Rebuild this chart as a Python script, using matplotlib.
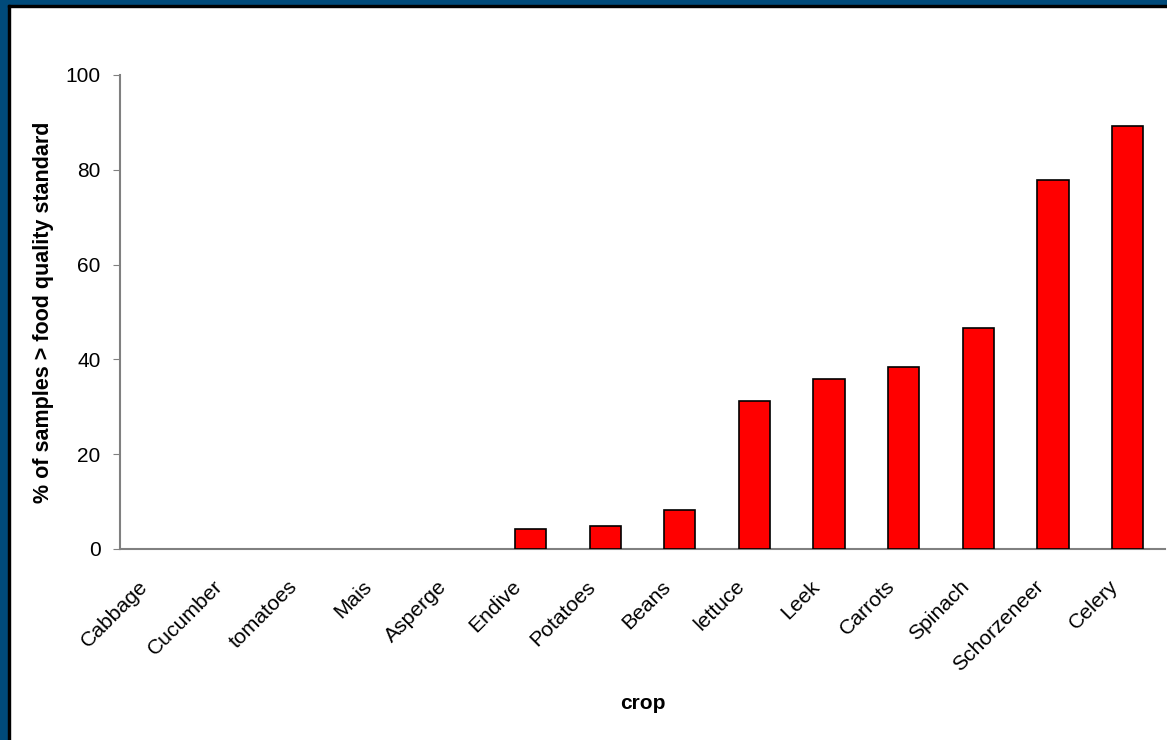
import matplotlib.pyplot as plt
from matplotlib.patches import Rectangle
from matplotlib.transforms import ScaledTranslation

crops = ["Cabbage", "Cucumber", "tomatoes", "Mais", "Asperge", "Endive", "Potatoes",
         "Beans", "lettuce", "Leek", "Carrots", "Spinach", "Schorzeneer", "Celery"]
pct_over = [0, 0, 0, 0, 0, 4.2, 4.9, 8.2, 31.2, 35.9, 38.4, 46.6, 77.8, 89.2]

plt.rcParams["font.family"] = ["Liberation Sans", "DejaVu Sans"]

W, H = 1167, 740
fig = plt.figure(figsize=(W / 100, H / 100), dpi=100)

# blue frame on left and top, with a thin black inner line
blue = "#004a7a"
fig.patches.append(Rectangle((0, 0), 8 / W, 1, transform=fig.transFigure, color=blue, zorder=0))
fig.patches.append(Rectangle((0, 1 - 5 / H), 1, 5 / H, transform=fig.transFigure, color=blue, zorder=0))
fig.patches.append(Rectangle((8 / W, 0), 1.5 / W, 1 - 5 / H, transform=fig.transFigure, color="black", zorder=0))
fig.patches.append(Rectangle((8 / W, 1 - 6.5 / H), 1, 1.5 / H, transform=fig.transFigure, color="black", zorder=0))

ax = fig.add_axes([120 / W, (H - 549) / H, (1165 - 120) / W, (549 - 75) / H])
x = range(len(crops))
lw = [1.2 if v > 0 else 0 for v in pct_over]
ax.bar(x, pct_over, width=0.42, color="#ff0000", edgecolor="black", linewidth=lw, zorder=3)

ax.set_xlim(-0.5, len(crops) - 0.5)
ax.set_ylim(0, 100)
ax.set_yticks([0, 20, 40, 60, 80, 100])
ax.tick_params(axis="y", direction="out", length=5, color="#808080", labelsize=15, pad=9)
ax.tick_params(axis="x", length=0, labelsize=15.2, pad=20)
ax.set_xticks(list(x))
ax.set_xticklabels(crops, rotation=45, ha="right", rotation_mode="anchor")
shift = ScaledTranslation(-19 / 100, 0, fig.dpi_scale_trans)
for lab in ax.get_xticklabels():
    lab.set_transform(lab.get_transform() + shift)

for side in ["top", "right"]:
    ax.spines[side].set_visible(False)
for side in ["left", "bottom"]:
    ax.spines[side].set_color("#808080")
    ax.spines[side].set_linewidth(1.5)

ax.set_ylabel("% of samples > food quality standard", fontsize=15.5, fontweight="bold", labelpad=8)
ax.set_xlabel("crop", fontsize=15, fontweight="bold", labelpad=14)

fig.savefig("out.png", dpi=100)
